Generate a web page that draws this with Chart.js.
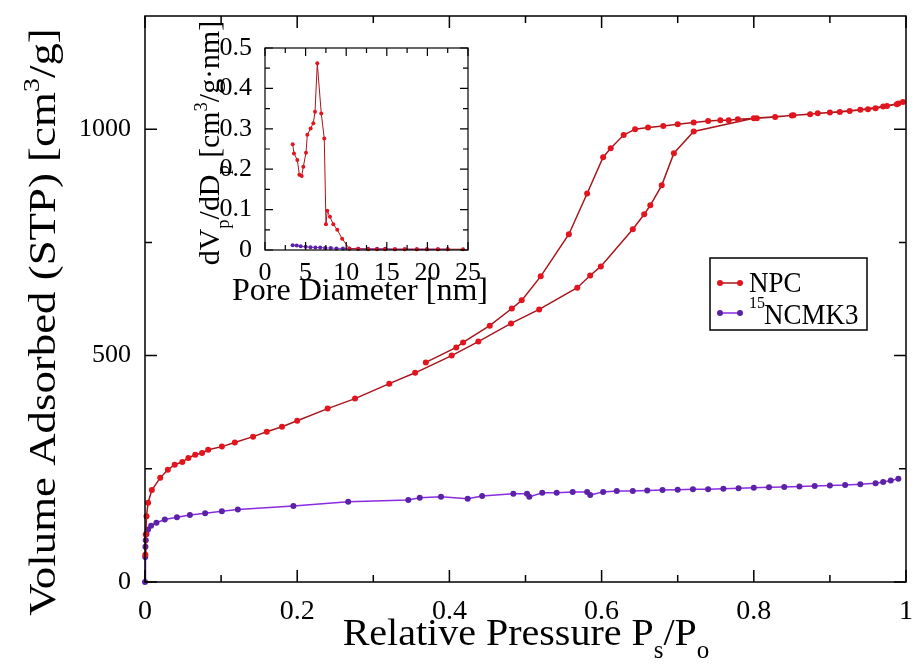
<!DOCTYPE html>
<html><head><meta charset="utf-8">
<script src="https://cdn.jsdelivr.net/npm/chart.js@4"></script>
<style>
html,body{margin:0;padding:0;background:#fff;}
#wrap{position:relative;width:915px;height:669px;overflow:hidden;}
canvas{position:absolute;left:0;top:0;}
</style></head><body>
<div id="wrap"><canvas id="main" width="915" height="669"></canvas><canvas id="inset" width="915" height="669"></canvas></div>
<script>
// ---------- data: main isotherm ----------
const npcP = [0.0005,0.001,0.002,0.004,0.009,0.02,0.03,0.039,0.049,0.057,0.066,0.075,0.083,0.101,0.118,0.142,0.16,0.18,0.20,0.24,0.276,0.321,0.355,0.403,0.438,0.481,0.518,0.568,0.585,0.599,0.641,0.656,0.664,0.679,0.695,0.721,0.80,0.85,0.90,0.94,0.97,0.99,0.996,
  0.988,0.975,0.96,0.95,0.926,0.913,0.884,0.874,0.852,0.828,0.804,0.779,0.767,0.756,0.74,0.721,0.70,0.681,0.661,0.644,0.629,0.612,0.602,0.581,0.557,0.52,0.495,0.482,0.453,0.418,0.409,0.369];
const npcV = [60,105,145,175,203,230,248,259,265,274,281,285,292,299,308,321,332,343,356,383,405,438,462,500,531,571,602,650,677,697,779,812,832,876,947,995,1024,1030,1037,1043,1050,1057,1060,
  1055,1051,1046,1044,1040,1038,1035,1033,1031,1027,1024,1022,1020,1020,1018,1015,1011,1007,1004,1000,987,958,938,858,768,675,622,604,566,529,518,485];
const ncmkP = [0,0.0003,0.0006,0.001,0.002,0.004,0.008,0.015,0.026,0.042,0.059,0.079,0.101,0.122,0.195,0.267,0.346,0.361,0.389,0.424,0.443,0.484,0.502,0.505,0.522,0.541,0.562,0.581,0.585,0.602,0.62,0.641,0.66,0.68,0.70,0.72,0.74,0.76,0.78,0.80,0.82,0.84,0.86,0.88,0.90,0.92,0.94,0.96,0.97,0.98,0.99];
const ncmkV = [0,55,78,92,106,116,124,131,138,143,148,152,156,160,168,177,181,186,188,184,190,195,195,188,197,197,199,199,192,199,201,201,202,203,204,205,205,206,207,208,209,210,211,212,213,214,216,218,221,224,228];
// ---------- data: inset pore size distribution ----------
const npcD = [3.41,3.57,3.98,4.23,4.52,4.72,5.05,5.21,5.62,5.95,6.16,6.44,6.93,7.30,7.51,7.67,8.0,8.41,8.9,9.5,10.4,11.45,12.7,13.8,14.8,16.0,17.2,18.7,19.95,21.3,22.5,24.4];
const npcPSD = [0.262,0.239,0.223,0.186,0.183,0.206,0.241,0.285,0.301,0.314,0.342,0.462,0.338,0.276,0.064,0.097,0.082,0.064,0.05,0.028,0.003,0.003,0.002,0.002,0.002,0.002,0.002,0.002,0.002,0.002,0.002,0.002];
const ncmkD = [3.4,3.9,4.4,5.0,5.6,6.2,6.8,7.4,8.1,8.8,9.6,10.4,11.5,12.7,13.8,14.8,16.0,17.2,18.7,19.95,21.3,22.5];
const ncmkPSD = [0.012,0.011,0.009,0.008,0.007,0.006,0.006,0.005,0.005,0.004,0.004,0.004,0.003,0.003,0.003,0.003,0.002,0.002,0.002,0.002,0.002,0.002];
// ---------- ticks ----------
const xTicks = [0,0.2,0.4,0.6,0.8,1];
const xTickLabels = ['0','0.2','0.4','0.6','0.8','1'];
const xMinor = [0.1,0.3,0.5,0.7,0.9];
const yTicks = [0,500,1000];
const yTickLabels = ['0','500','1000'];
const yMinor = [250,750];
const ixTicks = [0,5,10,15,20,25];
const ixMinor = [2.5,7.5,12.5,17.5,22.5];
const iyTicks = [0,0.1,0.2,0.3,0.4,0.5];
const iyTickLabels = ['0','0.1','0.2','0.3','0.4','0.5'];
const iyMinor = [0.05,0.15,0.25,0.35,0.45];
const seriesNames = ['NPC','NCMK3'];

const FONT = "'Liberation Serif','Times New Roman',serif";
const RED_LINE='#a8161c', RED_PT='#e3141e', PUR_LINE='#8a2be2', PUR_PT='#5b22a8';

function pts(xs, ys){ return xs.map((x,i)=>({x:x, y:ys[i]})); }

function drawRich(ctx, parts, x, y, size, rot, sx, sy){
  ctx.save(); ctx.translate(x,y); ctx.scale(sx||1, sy||1); if(rot) ctx.rotate(rot);
  ctx.fillStyle='#000'; ctx.textBaseline='alphabetic'; ctx.textAlign='left';
  const sm = Math.round(size*0.62);
  let w=0;
  const m = parts.map(([t,k])=>{ ctx.font=(k==='n'?size:sm)+'px '+FONT; const ww=ctx.measureText(t).width; w+=ww; return ww; });
  let cx=-w/2;
  parts.forEach(([t,k],i)=>{ ctx.font=(k==='n'?size:sm)+'px '+FONT; const dy = k==='sub'? size*0.33 : (k==='sup'? -size*0.42 : 0); ctx.fillText(t,cx,dy); cx+=m[i]; });
  ctx.restore();
}

const frameTicks = {
  id:'frameTicks',
  afterDatasetsDraw(chart, args, o){
    const ctx=chart.ctx, a=chart.chartArea, x=chart.scales.x, y=chart.scales.y;
    ctx.save(); ctx.strokeStyle='#000'; ctx.lineWidth=o.lw;
    ctx.beginPath();
    const seg=(x1,y1,x2,y2)=>{ctx.moveTo(x1,y1);ctx.lineTo(x2,y2);};
    o.xMajor.forEach(v=>{const p=x.getPixelForValue(v); seg(p,a.bottom,p,a.bottom-o.maj); seg(p,a.top,p,a.top+o.maj);});
    o.xMinor.forEach(v=>{const p=x.getPixelForValue(v); seg(p,a.bottom,p,a.bottom-o.min); seg(p,a.top,p,a.top+o.min);});
    o.yMajor.forEach(v=>{const p=y.getPixelForValue(v); seg(a.left,p,a.left+o.maj,p); seg(a.right,p,a.right-o.maj,p);});
    o.yMinor.forEach(v=>{const p=y.getPixelForValue(v); seg(a.left,p,a.left+o.min,p); seg(a.right,p,a.right-o.min,p);});
    ctx.stroke();
    ctx.strokeRect(a.left,a.top,a.right-a.left,a.bottom-a.top);
    ctx.restore();
  }
};

const titles = {
  id:'titles',
  afterDraw(chart, args, o){
    const ctx=chart.ctx;
    (o.items||[]).forEach(it=>drawRich(ctx,it.parts,it.x,it.y,it.size,it.rot||0,it.sx,it.sy));
  }
};

const legendBox = {
  id:'legendBox',
  afterDraw(chart){
    const ctx=chart.ctx;
    ctx.save();
    ctx.strokeStyle='#000'; ctx.lineWidth=1.5;
    ctx.strokeRect(710,258,157,72);
    const rows=[{y:283,l:RED_LINE,p:RED_PT},{y:313,l:PUR_LINE,p:PUR_PT}];
    rows.forEach(r=>{
      ctx.strokeStyle=r.l; ctx.lineWidth=1.5; ctx.beginPath(); ctx.moveTo(720,r.y); ctx.lineTo(740,r.y); ctx.stroke();
      ctx.fillStyle=r.p; [720,740].forEach(px=>{ctx.beginPath();ctx.arc(px,r.y,3,0,Math.PI*2);ctx.fill();});
    });
    ctx.fillStyle='#000'; ctx.textBaseline='alphabetic'; ctx.textAlign='left';
    ctx.save(); ctx.translate(749,292); ctx.scale(1,1.1); ctx.font='27px '+FONT; ctx.fillText(seriesNames[0],0,0); ctx.restore();
    ctx.save(); ctx.translate(749,308); ctx.scale(1,1.1); ctx.font='16px '+FONT; ctx.fillText('15',0,0); ctx.restore();
    ctx.save(); ctx.translate(764,324); ctx.scale(1,1.1); ctx.font='27px '+FONT; ctx.fillText(seriesNames[1],0,0); ctx.restore();
    ctx.restore();
  }
};

function ds(label, data, lc, pc, r, lw){
  return {label, data, showLine:true, borderColor:lc, borderWidth:lw, pointBackgroundColor:pc, pointBorderColor:pc, pointRadius:r, pointBorderWidth:0, pointHoverRadius:r, tension:0, clip:false};
}
function noPadX(s, h){ s.height=h; s.paddingLeft=0; s.paddingRight=0; }
function noPadY(s, w){ s.width=w; s.paddingTop=0; s.paddingBottom=0; }

new Chart(document.getElementById('main'), {
  type:'scatter',
  data:{datasets:[ ds(seriesNames[0], pts(npcP,npcV), RED_LINE, RED_PT, 3, 1.5), ds(seriesNames[1], pts(ncmkP,ncmkV), PUR_LINE, PUR_PT, 3, 1.5) ]},
  options:{
    responsive:false, animation:false, devicePixelRatio:1,
    layout:{padding:{left:0,right:9,top:16,bottom:0}},
    plugins:{legend:{display:false}, tooltip:{enabled:false},
      frameTicks:{lw:1.5, maj:12, min:7, xMajor:xTicks, xMinor:xMinor, yMajor:yTicks, yMinor:yMinor},
      titles:{items:[
        {parts:[['Relative Pressure P','n'],['s','sub'],['/P','n'],['o','sub']], x:526, y:645, size:40, sy:0.97},
        {parts:[['Volume Adsorbed (STP) [cm','n'],['3','sup'],['/g]','n']], x:55, y:322, size:38, rot:-Math.PI/2, sy:1.18}
      ]}
    },
    scales:{
      x:{type:'linear', min:0, max:1, afterFit:s=>noPadX(s,87),
         afterBuildTicks:s=>{s.ticks=xTicks.map(v=>({value:v}));},
         grid:{display:false}, border:{display:false},
         ticks:{color:'#000', font:{family:FONT,size:28}, padding:5, maxRotation:0, autoSkip:false, callback:(v,i)=>xTickLabels[i]}},
      y:{type:'linear', min:0, max:1250, afterFit:s=>noPadY(s,145),
         afterBuildTicks:s=>{s.ticks=yTicks.map(v=>({value:v}));},
         grid:{display:false}, border:{display:false},
         ticks:{color:'#000', font:{family:FONT,size:26}, padding:6, autoSkip:false, callback:(v,i)=>yTickLabels[i]}}
    }
  },
  plugins:[frameTicks, titles, legendBox]
});

new Chart(document.getElementById('inset'), {
  type:'scatter',
  data:{datasets:[ ds(seriesNames[0], pts(npcD,npcPSD), RED_LINE, RED_PT, 2, 1), ds(seriesNames[1], pts(ncmkD,ncmkPSD), PUR_LINE, PUR_PT, 2, 1) ]},
  options:{
    responsive:false, animation:false, devicePixelRatio:1,
    layout:{padding:{left:195,right:447,top:48,bottom:374}},
    plugins:{legend:{display:false}, tooltip:{enabled:false},
      frameTicks:{lw:1.2, maj:8, min:5, xMajor:ixTicks, xMinor:ixMinor, yMajor:iyTicks, yMinor:iyMinor},
      titles:{items:[
        {parts:[['Pore Diameter [nm]','n']], x:360, y:300, size:32, sy:1.0},
        {parts:[['dV','n'],['p','sub'],['/dD','n'],['p','sub'],[' [cm','n'],['3','sup'],['/g\u00b7nm]','n']], x:219, y:143, size:29, rot:-Math.PI/2, sy:1.03}
      ]}
    },
    scales:{
      x:{type:'linear', min:0, max:25, afterFit:s=>noPadX(s,45),
         afterBuildTicks:s=>{s.ticks=ixTicks.map(v=>({value:v}));},
         grid:{display:false}, border:{display:false},
         ticks:{color:'#000', font:{family:FONT,size:26}, padding:0, maxRotation:0, autoSkip:false, callback:(v,i)=>String(ixTicks[i])}},
      y:{type:'linear', min:0, max:0.5, afterFit:s=>noPadY(s,70),
         afterBuildTicks:s=>{s.ticks=iyTicks.map(v=>({value:v}));},
         grid:{display:false}, border:{display:false},
         ticks:{color:'#000', font:{family:FONT,size:26}, padding:5, autoSkip:false, callback:(v,i)=>iyTickLabels[i]}}
    }
  },
  plugins:[frameTicks, titles]
});
</script>
</body></html>
